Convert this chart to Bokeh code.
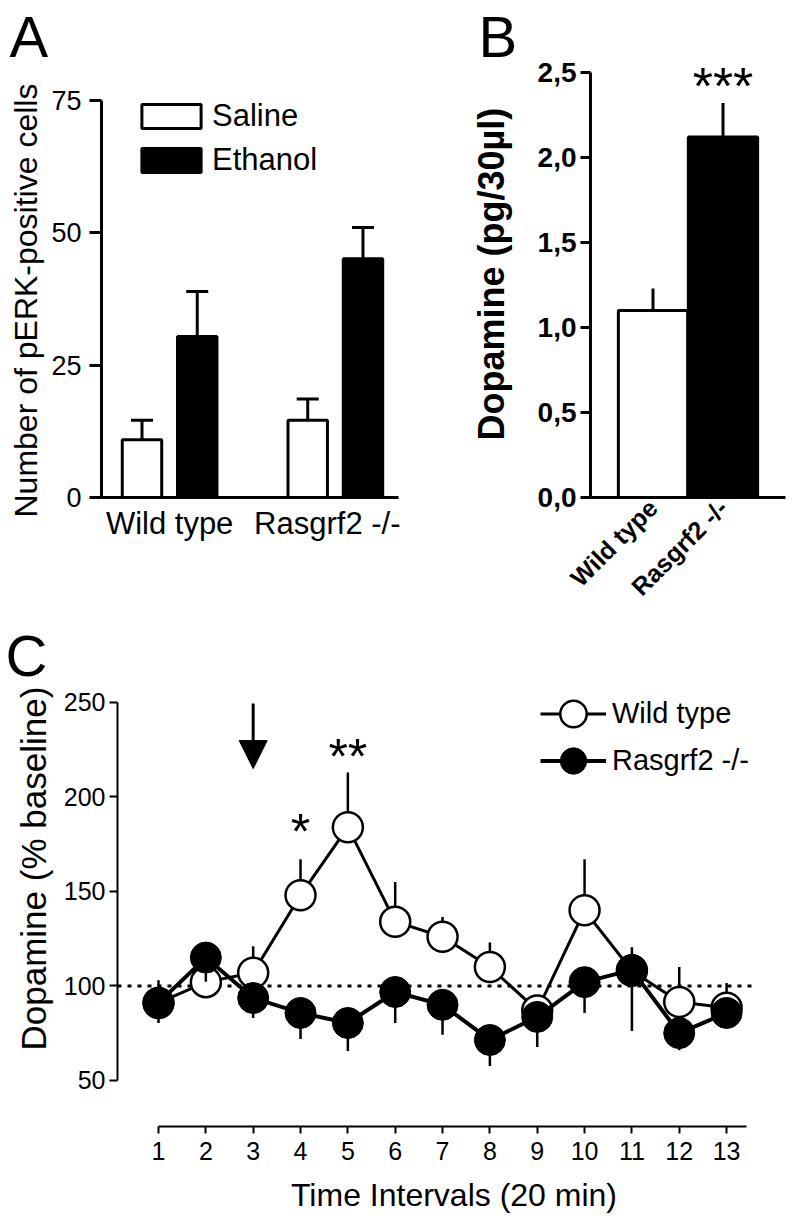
import math
from bokeh.plotting import figure
from bokeh.layouts import column, row
from bokeh.models import (ColumnDataSource, Range1d, FixedTicker, Label, Legend, LegendItem,
                          Arrow, NormalHead, Whisker, TeeHead, Title)
from bokeh.embed import file_html
from bokeh.resources import INLINE

# ---------------- data ----------------
# Panel A
genotypes = ["Wild type", "Rasgrf2 -/-"]
treatments = ["Saline", "Ethanol"]
saline = [10.9, 14.6]
saline_err = [3.7, 4.0]
ethanol = [30.4, 45.1]
ethanol_err = [8.5, 5.9]
a_ticks = [0, 25, 50, 75]

# Panel B
b_groups = ["Wild type", "Rasgrf2 -/-"]
b_dopamine = [1.10, 2.12]
b_err = [0.13, 0.20]
b_ticks = [0.0, 0.5, 1.0, 1.5, 2.0, 2.5]
b_tick_labels = ["0,0", "0,5", "1,0", "1,5", "2,0", "2,5"]

# Panel C
intervals = list(range(1, 14))
wt_mean = [91, 102, 107, 148, 184, 134, 126, 110, 87, 140, 108, 91.5, 88.5]
wt_err = [12, 8, 14, 19, 29, 21, 10.5, 13, 4, 27, 12.5, 18.5, 13]
ko_mean = [91, 115, 93.6, 85.7, 80.4, 96.8, 90, 71.4, 83.6, 102, 108.5, 75, 85.7]
ko_err = [10.6, 12.8, 10.6, 13.8, 14.8, 16.4, 15.9, 13.8, 15.9, 16.3, 32.3, 9, 6]
c_ticks = [50, 100, 150, 200, 250]
baseline_level = 100
series_names = ["Wild type", "Rasgrf2 -/-"]
injection_interval = 3
sig_intervals = [4, 5]
sig_marks = ["*", "**"]

FONT = "Liberation Sans"


def clean(p):
    p.xgrid.visible = False
    p.ygrid.visible = False
    p.outline_line_color = None
    p.background_fill_color = "white"
    p.border_fill_color = "white"


def panel_letter(p, text, offset, standoff):
    p.title.text = text
    p.title.align = "left"
    p.title.offset = offset
    p.title.standoff = standoff
    p.title.text_font = FONT
    p.title.text_font_size = "58px"
    p.title.text_font_style = "normal"
    p.title.text_color = "black"


def side_title(p, text, size, style, offset, standoff):
    p.add_layout(Title(text=text, align="left", offset=offset, standoff=standoff,
                       text_font=FONT, text_font_size=size, text_font_style=style,
                       text_color="black"), "left")


def bare_ticks(axis):
    axis.major_tick_in = 0
    axis.minor_tick_out = 0
    axis.minor_tick_in = 0
    axis.axis_line_color = "black"
    axis.major_tick_line_color = "black"
    axis.major_label_text_color = "black"
    axis.axis_label_text_color = "black"


TOP_H = 615

# ---------------- Panel A ----------------
xs = list(range(1, len(genotypes) + 1))
bar_off = 0.1667
bar_w = 0.238
pA = figure(width=400, height=TOP_H, x_range=Range1d(0.589, 2.381), y_range=Range1d(0, 83.5),
            output_backend="svg", toolbar_location=None,
            min_border_left=97, min_border_right=2, min_border_top=55,
            min_border_bottom=TOP_H - 497)
clean(pA)
srcS = ColumnDataSource(dict(x=[x - bar_off for x in xs], top=saline,
                             up=[m + e for m, e in zip(saline, saline_err)]))
srcE = ColumnDataSource(dict(x=[x + bar_off for x in xs], top=ethanol,
                             up=[m + e for m, e in zip(ethanol, ethanol_err)]))
for src in (srcS, srcE):
    pA.add_layout(Whisker(base="x", lower="top", upper="up", source=src, line_width=3,
                          line_color="black", lower_head=None,
                          upper_head=TeeHead(size=22, line_width=3, line_color="black")))
rS = pA.vbar(x="x", top="top", bottom=0, width=bar_w, source=srcS,
             fill_color="white", line_color="black", line_width=3)
rE = pA.vbar(x="x", top="top", bottom=0, width=bar_w, source=srcE,
             fill_color="black", line_color="black", line_width=3)

ay = pA.yaxis[0]
ay.ticker = FixedTicker(ticks=a_ticks)
ay.bounds = (a_ticks[0], a_ticks[-1])
ay.axis_line_width = 3
ay.major_tick_line_width = 3
ay.major_tick_out = 12
bare_ticks(ay)
ay.major_label_text_font = FONT
ay.major_label_text_font_size = "27px"
ay.major_label_standoff = 8
side_title(pA, "Number of pERK-positive cells", "32px", "normal", -20, 10)

ax = pA.xaxis[0]
ax.ticker = FixedTicker(ticks=xs)
ax.major_label_overrides = {x: g for x, g in zip(xs, genotypes)}
ax.major_tick_out = 0
bare_ticks(ax)
ax.axis_line_width = 3
ax.major_label_text_font = FONT
ax.major_label_text_font_size = "31px"
ax.major_label_standoff = 8

legA = Legend(items=[LegendItem(label=treatments[0], renderers=[rS]),
                     LegendItem(label=treatments[1], renderers=[rE])],
              location=(33, 319), glyph_width=74, glyph_height=30, spacing=8,
              padding=0, margin=0, border_line_color=None, background_fill_alpha=0,
              label_text_font=FONT, label_text_font_size="31px", label_standoff=4,
              label_text_color="black")
pA.add_layout(legA)
panel_letter(pA, "A", -92, -27)

# ---------------- Panel B ----------------
bx = list(range(1, len(b_groups) + 1))
pB = figure(width=392, height=TOP_H, x_range=Range1d(0.107, 2.893), y_range=Range1d(0, 2.6),
            output_backend="svg", toolbar_location=None,
            min_border_left=190, min_border_right=7, min_border_top=55,
            min_border_bottom=TOP_H - 497)
clean(pB)
srcB = ColumnDataSource(dict(x=bx, top=b_dopamine, up=[m + e for m, e in zip(b_dopamine, b_err)],
                             color=["white", "black"]))
pB.add_layout(Whisker(base="x", lower="top", upper="up", source=srcB, line_width=3,
                      line_color="black", lower_head=None, upper_head=None))
pB.vbar(x="x", top="top", bottom=0, width=0.99, source=srcB, fill_color="color",
        line_color="black", line_width=3)

by = pB.yaxis[0]
by.ticker = FixedTicker(ticks=b_ticks)
by.bounds = (b_ticks[0], b_ticks[-1])
by.major_label_overrides = {t: l for t, l in zip(b_ticks, b_tick_labels)}
by.axis_line_width = 3
by.major_tick_line_width = 3
by.major_tick_out = 10
bare_ticks(by)
by.major_label_text_font = FONT
by.major_label_text_font_size = "28px"
by.major_label_text_font_style = "bold"
by.major_label_standoff = 4
side_title(pB, "Dopamine (pg/30µl)", "36px", "bold", 57, 46)

bxa = pB.xaxis[0]
bxa.ticker = FixedTicker(ticks=bx)
bxa.major_label_overrides = {x: g for x, g in zip(bx, b_groups)}
bxa.major_label_orientation = math.pi / 4
bxa.major_tick_out = 0
bare_ticks(bxa)
bxa.axis_line_width = 3
bxa.major_label_text_font = FONT
bxa.major_label_text_font_size = "25px"
bxa.major_label_text_font_style = "bold"
bxa.major_label_standoff = 6

pB.add_layout(Label(x=bx[1], y=2.42, text="***", text_font=FONT, text_font_size="52px",
                    text_align="center", text_baseline="alphabetic", text_color="black"))
panel_letter(pB, "B", -112, -27)

# ---------------- Panel C ----------------
C_H = 1226 - TOP_H
C_FRAME_TOP = 640
pC = figure(width=792, height=C_H, x_range=Range1d(0.134, 14.35), y_range=Range1d(25.6, 282.8),
            output_backend="svg", toolbar_location=None,
            min_border_left=117, min_border_right=2, min_border_top=C_FRAME_TOP - TOP_H,
            min_border_bottom=C_H - (1126 - TOP_H))
clean(pC)
pC.line(x=[pC.x_range.start, intervals[-1] + 0.57], y=[baseline_level, baseline_level],
        line_color="black", line_width=3, line_dash="4 6")
srcW = ColumnDataSource(dict(x=intervals, y=wt_mean, e=[m + e for m, e in zip(wt_mean, wt_err)]))
srcK = ColumnDataSource(dict(x=intervals, y=ko_mean, e=[m - e for m, e in zip(ko_mean, ko_err)]))
pC.segment(x0="x", y0="y", x1="x", y1="e", source=srcW, line_color="black", line_width=2.5)
lW = pC.line(x="x", y="y", source=srcW, line_color="black", line_width=3)
mW = pC.scatter(x="x", y="y", source=srcW, size=30, marker="circle", fill_color="white",
                line_color="black", line_width=2.5)
pC.segment(x0="x", y0="y", x1="x", y1="e", source=srcK, line_color="black", line_width=2.5)
lK = pC.line(x="x", y="y", source=srcK, line_color="black", line_width=4)
mK = pC.scatter(x="x", y="y", source=srcK, size=31, marker="circle", fill_color="black",
                line_color="black", line_width=1)

pC.add_layout(Arrow(end=NormalHead(size=28, fill_color="black", line_color="black"),
                    x_start=injection_interval, y_start=249.5, x_end=injection_interval, y_end=215,
                    line_width=3, line_color="black"))
sig_y = [181.7, 220.9]
for xi, mk, yy in zip(sig_intervals, sig_marks, sig_y):
    pC.add_layout(Label(x=xi, y=yy, text=mk, text_font=FONT, text_font_size="50px",
                        text_align="center", text_baseline="alphabetic", text_color="black"))

cy = pC.yaxis[0]
cy.ticker = FixedTicker(ticks=c_ticks)
cy.bounds = (c_ticks[0], c_ticks[-1])
cy.axis_line_width = 2
cy.major_tick_line_width = 2
cy.major_tick_out = 8
bare_ticks(cy)
cy.major_label_text_font = FONT
cy.major_label_text_font_size = "25px"
cy.major_label_standoff = 4
side_title(pC, "Dopamine (% baseline)", "35px", "normal", 76, 16)

cx = pC.xaxis[0]
cx.ticker = FixedTicker(ticks=intervals)
cx.bounds = (intervals[0], intervals[-1] + 0.42)
cx.axis_line_width = 2
cx.major_tick_line_width = 2
cx.major_tick_out = 7
bare_ticks(cx)
cx.major_label_text_font = FONT
cx.major_label_text_font_size = "25px"
cx.major_label_standoff = 8
cx.axis_label = "Time Intervals (20 min)"
cx.axis_label_text_font = FONT
cx.axis_label_text_font_size = "32px"
cx.axis_label_text_font_style = "normal"
cx.axis_label_standoff = 14

for name, rends, ybot in zip(series_names, [[lW, mW], [lK, mK]], [375, 328]):
    pC.add_layout(Legend(items=[LegendItem(label=name, renderers=rends)],
                         location=(423, ybot), glyph_width=66, glyph_height=75,
                         padding=0, margin=0, border_line_color=None, background_fill_alpha=0,
                         label_text_font=FONT, label_text_font_size="29px", label_standoff=6,
                         label_text_color="black"))
panel_letter(pC, "C", -112, -95)

layout = column(row(pA, pB), pC)
open("out.html", "w").write(file_html(layout, INLINE))
